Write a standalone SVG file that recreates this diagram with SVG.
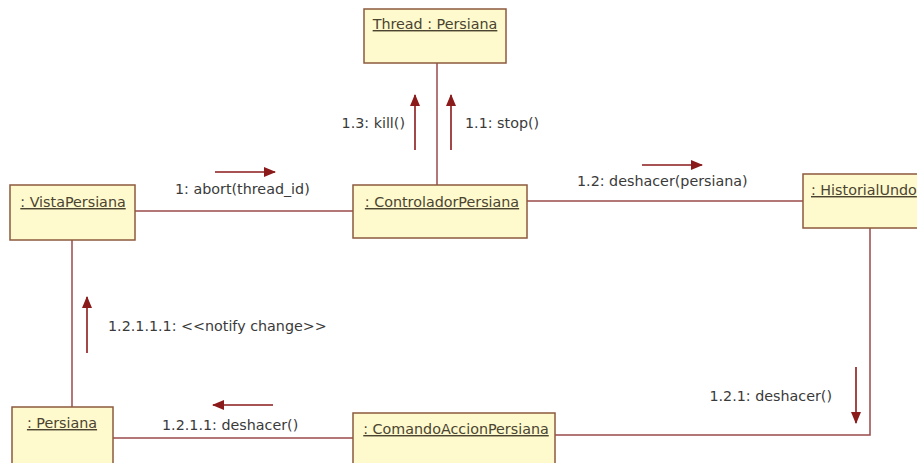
<svg xmlns="http://www.w3.org/2000/svg" width="917" height="463" viewBox="0 0 917 463">
<defs>
<style>
.box{fill:#FFFACD;stroke:#8C5A3C;stroke-width:1.5}
.lbl{font-family:"DejaVu Sans",Verdana,sans-serif;font-size:14.3px;fill:#3a3a3a}
.obj{font-family:"DejaVu Sans",Verdana,sans-serif;font-size:14.3px;fill:#4a4430;text-decoration:underline}
.link{stroke:#9B4A4A;stroke-width:1.5;fill:none}
.msg{stroke:#8B1A1A;stroke-width:1.6;fill:none;marker-end:url(#ah)}
</style>
<marker id="ah" viewBox="0 0 12 10" refX="11" refY="5" markerWidth="12" markerHeight="10" markerUnits="userSpaceOnUse" orient="auto">
<path d="M0,0 L12,5 L0,10 Z" fill="#8B1A1A"/>
</marker>
</defs>
<rect width="917" height="463" fill="#ffffff"/>
<g id="connectors">
<line class="link" x1="437" y1="63" x2="437" y2="185"/>
<line class="link" x1="135" y1="211" x2="353" y2="211"/>
<line class="link" x1="527" y1="201" x2="803" y2="201"/>
<polyline class="link" points="870,228 870,435 555,435"/>
<line class="link" x1="113" y1="438" x2="353" y2="438"/>
<line class="link" x1="72" y1="240" x2="72" y2="407"/>
<line class="msg" x1="415" y1="150" x2="415" y2="95"/>
<line class="msg" x1="451" y1="150" x2="451" y2="95"/>
<line class="msg" x1="215" y1="172" x2="275" y2="172"/>
<line class="msg" x1="642" y1="165" x2="702" y2="165"/>
<line class="msg" x1="856" y1="367" x2="856" y2="423"/>
<line class="msg" x1="273" y1="405" x2="213" y2="405"/>
<line class="msg" x1="87" y1="353" x2="87" y2="297"/>
<text class="lbl" x="405" y="128" text-anchor="end">1.3: kill()</text>
<text class="lbl" x="465" y="128">1.1: stop()</text>
<text class="lbl" x="175" y="194">1: abort(thread_id)</text>
<text class="lbl" x="577" y="186">1.2: deshacer(persiana)</text>
<text class="lbl" x="832" y="401" text-anchor="end">1.2.1: deshacer()</text>
<text class="lbl" x="162" y="430">1.2.1.1: deshacer()</text>
<text class="lbl" x="108" y="331">1.2.1.1.1: &lt;&lt;notify change&gt;&gt;</text>
</g>
<g id="thread">
<rect class="box" x="364" y="9" width="142" height="54"/>
<text class="obj" x="435" y="29" text-anchor="middle">Thread : Persiana</text>
</g>
<g id="controlador">
<rect class="box" x="353" y="185" width="174" height="53"/>
<text class="obj" x="442" y="207" text-anchor="middle">: ControladorPersiana</text>
</g>
<g id="vista">
<rect class="box" x="10" y="185" width="125" height="55"/>
<text class="obj" x="73" y="207" text-anchor="middle">: VistaPersiana</text>
</g>
<g id="historial">
<rect class="box" x="803" y="174" width="130" height="54"/>
<text class="obj" x="811" y="195">: HistorialUndo</text>
</g>
<g id="persiana">
<rect class="box" x="12" y="407" width="101" height="66"/>
<text class="obj" x="62" y="428" text-anchor="middle">: Persiana</text>
</g>
<g id="comando">
<rect class="box" x="353" y="413" width="202" height="60"/>
<text class="obj" x="456" y="434" text-anchor="middle">: ComandoAccionPersiana</text>
</g>
</svg>
